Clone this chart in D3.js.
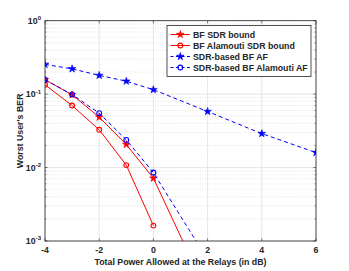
<!DOCTYPE html>
<html><head><meta charset="utf-8">
<script src="https://cdn.jsdelivr.net/npm/d3@7"></script>
<style>body{margin:0;background:#fff}svg{display:block}text{font-family:"Liberation Sans",Arial,sans-serif;font-weight:bold;fill:#262626}</style>
</head><body><svg id="c" width="349" height="271"></svg>
<script>
const power = [-4,-3,-2,-1,0,2,4,6];
const bfSdrBound = [0.157,0.098,0.0486,0.0206,0.00716,0.00019];
const bfAlamoutiSdrBound = [0.134,0.070,0.0327,0.0108,0.00162];
const sdrBfAF = [0.254,0.221,0.180,0.150,0.115,0.058,0.029,0.016];
const sdrBfAlamoutiAF = [0.157,0.099,0.055,0.0238,0.00855,0.00056];
const xTicks = [-4,-2,0,2,4,6];
const yTickExp = [0,-1,-2,-3];
const seriesNames = ["BF SDR bound","BF Alamouti SDR bound","SDR-based BF AF","SDR-based BF Alamouti AF"];

const svg = d3.select("#c");
const L=45,R=316,T=20.7,B=241;
const FS=8.8;
const x = d3.scaleLinear().domain([-4,6]).range([L,R]);
const y = d3.scaleLog().domain([1e-3,1]).range([B,T]);

// grid
const g = svg.append("g");
const minor=[];
for(let e=-3;e<0;e++) for(let m=2;m<=9;m++) minor.push(m*Math.pow(10,e));
g.selectAll(".mn").data(minor).enter().append("line")
 .attr("x1",L).attr("x2",R).attr("y1",d=>y(d)).attr("y2",d=>y(d))
 .attr("stroke","#d4d4d4").attr("stroke-width",0.6).attr("stroke-dasharray","1,1.5");
g.selectAll(".mj").data(yTickExp.map(e=>Math.pow(10,e))).enter().append("line")
 .attr("x1",L).attr("x2",R).attr("y1",d=>y(d)).attr("y2",d=>y(d))
 .attr("stroke","#e0e0e0").attr("stroke-width",0.8);
g.selectAll(".vx").data(xTicks).enter().append("line")
 .attr("x1",d=>x(d)).attr("x2",d=>x(d)).attr("y1",T).attr("y2",B)
 .attr("stroke","#e0e0e0").attr("stroke-width",0.8);

// clip
svg.append("clipPath").attr("id","cp").append("rect").attr("x",L).attr("y",T).attr("width",R-L).attr("height",B-T);

const series = [
 {vals:bfSdrBound,color:"#ff0000",dash:null,marker:"star"},
 {vals:bfAlamoutiSdrBound,color:"#ff0000",dash:null,marker:"circle"},
 {vals:sdrBfAF,color:"#0000ff",dash:"4,3",marker:"star"},
 {vals:sdrBfAlamoutiAF,color:"#0000ff",dash:"4,3",marker:"circle"}
];
const line = d3.line().x(d=>x(d[0])).y(d=>y(d[1]));
const plot = svg.append("g").attr("clip-path","url(#cp)");
const star = d3.symbol().type(d3.symbolStar).size(18);
function marker(sel,s,px,py){
  if(s.marker==="star"){
    sel.append("path").attr("d",star()).attr("transform",`translate(${px},${py})`)
      .attr("fill",s.color).attr("stroke",s.color).attr("stroke-width",0.6);
  } else {
    sel.append("circle").attr("cx",px).attr("cy",py).attr("r",2.4)
      .attr("fill","none").attr("stroke",s.color).attr("stroke-width",1.1);
  }
}
series.forEach(s=>{
  const pts = s.vals.map((v,i)=>[power[i],v]);
  plot.append("path").attr("d",line(pts)).attr("fill","none").attr("stroke",s.color)
    .attr("stroke-width",1).attr("stroke-dasharray",s.dash);
  pts.forEach(p=>marker(plot,s,x(p[0]),y(p[1])));
});

// box and ticks
const ax = svg.append("g");
ax.append("rect").attr("x",L).attr("y",T).attr("width",R-L).attr("height",B-T)
  .attr("fill","none").attr("stroke","#262626").attr("stroke-width",0.8);
xTicks.forEach(t=>{
  ax.append("line").attr("x1",x(t)).attr("x2",x(t)).attr("y1",B).attr("y2",B-2.7).attr("stroke","#262626").attr("stroke-width",0.6);
  ax.append("line").attr("x1",x(t)).attr("x2",x(t)).attr("y1",T).attr("y2",T+2.7).attr("stroke","#262626").attr("stroke-width",0.6);
  ax.append("text").attr("x",x(t)).attr("y",253.2).attr("text-anchor","middle").attr("font-size",FS).text(t);
});
minor.forEach(v=>{
  ax.append("line").attr("x1",L).attr("x2",L+1.5).attr("y1",y(v)).attr("y2",y(v)).attr("stroke","#262626").attr("stroke-width",0.5);
  ax.append("line").attr("x1",R).attr("x2",R-1.5).attr("y1",y(v)).attr("y2",y(v)).attr("stroke","#262626").attr("stroke-width",0.5);
});
yTickExp.forEach(e=>{
  const yy=y(Math.pow(10,e));
  ax.append("line").attr("x1",L).attr("x2",L+2.7).attr("y1",yy).attr("y2",yy).attr("stroke","#262626").attr("stroke-width",0.6);
  ax.append("line").attr("x1",R).attr("x2",R-2.7).attr("y1",yy).attr("y2",yy).attr("stroke","#262626").attr("stroke-width",0.6);
  const t = ax.append("text").attr("x",41).attr("y",yy+3.2).attr("text-anchor","end").attr("font-size",FS);
  t.append("tspan").text("10");
  t.append("tspan").attr("dy",-3.8).attr("font-size",6).text(e===0?"0":"-"+(-e));
});

// labels
svg.append("text").attr("x",(L+R)/2).attr("y",264.5).attr("text-anchor","middle").attr("font-size",FS)
  .text("Total Power Allowed at the Relays (in dB)");
svg.append("text").attr("transform",`translate(22.5,${(T+B)/2}) rotate(-90)`).attr("text-anchor","middle").attr("font-size",FS)
  .text("Worst User's BER");

// legend
const lg = svg.append("g");
lg.append("rect").attr("x",167).attr("y",25.5).attr("width",144).attr("height",51)
  .attr("fill","#fff").attr("stroke","#262626").attr("stroke-width",0.8);
series.forEach((s,i)=>{
  const ly = 34.5+i*11;
  lg.append("line").attr("x1",170.5).attr("x2",190).attr("y1",ly).attr("y2",ly)
    .attr("stroke",s.color).attr("stroke-width",1).attr("stroke-dasharray",s.dash?"3,2.5":null);
  marker(lg,s,180.3,ly);
  lg.append("text").attr("x",193).attr("y",ly+3.2).attr("font-size",FS).text(seriesNames[i]);
});
</script></body></html>
